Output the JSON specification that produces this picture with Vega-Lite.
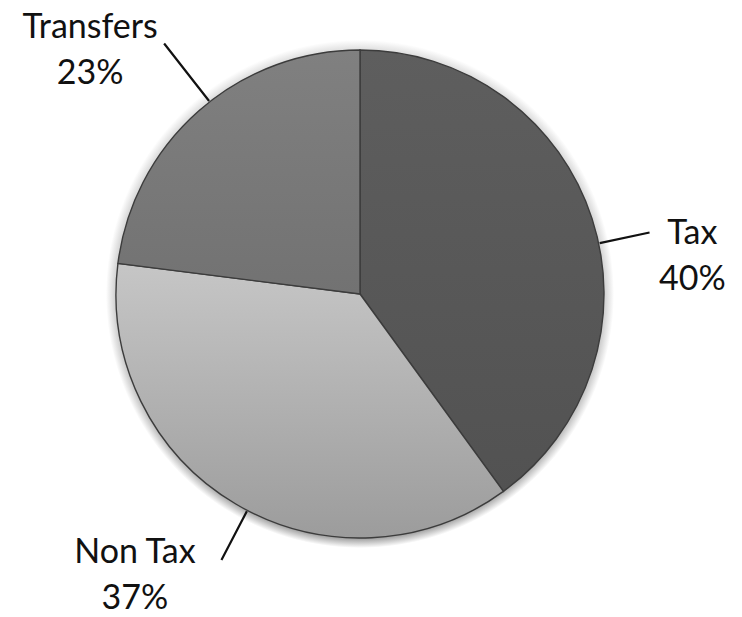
{
  "$schema": "https://vega.github.io/schema/vega-lite/v6.json",
  "width": 720,
  "height": 588,
  "autosize": "none",
  "padding": {"left": 0, "top": 0, "right": 22, "bottom": 29},
  "background": "white",
  "config": {"view": {"stroke": null}},
  "data": {
    "values": [
      {"category": "Tax", "share": 40, "rank": 1, "label": "Tax\n40%"},
      {"category": "Non Tax", "share": 37, "rank": 2, "label": "Non Tax\n37%"},
      {"category": "Transfers", "share": 23, "rank": 3, "label": "Transfers\n23%"}
    ]
  },
  "layer": [
    {
      "transform": [{"aggregate": [{"op": "sum", "field": "share", "as": "total"}]}],
      "mark": {
        "type": "arc",
        "radius": 254,
        "fill": {
          "gradient": "radial",
          "x1": 0.5, "y1": 0.52, "x2": 0.5, "y2": 0.5,
          "r1": 0.46, "r2": 0.5,
          "stops": [
            {"offset": 0, "color": "#9a9a9a"},
            {"offset": 1, "color": "#ffffff"}
          ]
        }
      },
      "encoding": {
        "theta": {"field": "total", "type": "quantitative", "stack": true}
      }
    },
    {
      "mark": {"type": "arc", "radius": 244, "stroke": "#3c3c3c", "strokeWidth": 1.4},
      "encoding": {
        "theta": {"field": "share", "type": "quantitative", "stack": true},
        "order": {"field": "rank", "type": "ordinal"},
        "fill": {
          "condition": [
            {
              "test": "datum.category === 'Tax'",
              "value": {
                "gradient": "linear", "x1": 0, "y1": 0, "x2": 0, "y2": 1,
                "stops": [{"offset": 0, "color": "#5e5e5e"}, {"offset": 1, "color": "#525252"}]
              }
            },
            {
              "test": "datum.category === 'Non Tax'",
              "value": {
                "gradient": "linear", "x1": 0, "y1": 0, "x2": 0, "y2": 1,
                "stops": [{"offset": 0, "color": "#c6c6c6"}, {"offset": 1, "color": "#9c9c9c"}]
              }
            }
          ],
          "value": {
            "gradient": "linear", "x1": 0, "y1": 0, "x2": 0, "y2": 1,
            "stops": [{"offset": 0, "color": "#808080"}, {"offset": 1, "color": "#727272"}]
          }
        }
      }
    },
    {
      "mark": {"type": "arc", "radius": 296, "radius2": 245, "padAngle": 3, "thetaOffset": 0.105, "theta2Offset": 0.105, "filled": false, "stroke": "#111111", "strokeWidth": 2.2},
      "encoding": {
        "theta": {"field": "share", "type": "quantitative", "stack": true},
        "order": {"field": "rank", "type": "ordinal"},
        "strokeOpacity": {"condition": {"test": "datum.category === 'Tax'", "value": 1}, "value": 0}
      }
    },
    {
      "mark": {"type": "arc", "radius": 300, "radius2": 245, "padAngle": 3, "thetaOffset": -0.054, "theta2Offset": -0.054, "filled": false, "stroke": "#111111", "strokeWidth": 2.2},
      "encoding": {
        "theta": {"field": "share", "type": "quantitative", "stack": true},
        "order": {"field": "rank", "type": "ordinal"},
        "strokeOpacity": {"condition": {"test": "datum.category === 'Non Tax'", "value": 1}, "value": 0}
      }
    },
    {
      "mark": {"type": "arc", "radius": 318, "radius2": 245, "padAngle": 3, "thetaOffset": 0.059, "theta2Offset": 0.059, "filled": false, "stroke": "#111111", "strokeWidth": 2.2},
      "encoding": {
        "theta": {"field": "share", "type": "quantitative", "stack": true},
        "order": {"field": "rank", "type": "ordinal"},
        "strokeOpacity": {"condition": {"test": "datum.category === 'Transfers'", "value": 1}, "value": 0}
      }
    },
    {
      "mark": {"type": "text", "radius": 340, "dx": 9, "dy": 45, "font": "Lato", "fontSize": 34, "lineBreak": "\n", "lineHeight": 46, "color": "#111111", "align": "center", "baseline": "middle"},
      "encoding": {
        "theta": {"field": "share", "type": "quantitative", "stack": true},
        "order": {"field": "rank", "type": "ordinal"},
        "text": {"condition": {"test": "datum.category === 'Tax'", "field": "label", "type": "nominal"}, "value": ""}
      }
    },
    {
      "mark": {"type": "text", "radius": 340, "dx": -52, "dy": -34, "font": "Lato", "fontSize": 34, "lineBreak": "\n", "lineHeight": 46, "color": "#111111", "align": "center", "baseline": "middle"},
      "encoding": {
        "theta": {"field": "share", "type": "quantitative", "stack": true},
        "order": {"field": "rank", "type": "ordinal"},
        "text": {"condition": {"test": "datum.category === 'Non Tax'", "field": "label", "type": "nominal"}, "value": ""}
      }
    },
    {
      "mark": {"type": "text", "radius": 340, "dx": -45, "dy": -11, "font": "Lato", "fontSize": 34, "lineBreak": "\n", "lineHeight": 46, "color": "#111111", "align": "center", "baseline": "middle"},
      "encoding": {
        "theta": {"field": "share", "type": "quantitative", "stack": true},
        "order": {"field": "rank", "type": "ordinal"},
        "text": {"condition": {"test": "datum.category === 'Transfers'", "field": "label", "type": "nominal"}, "value": ""}
      }
    }
  ]
}
